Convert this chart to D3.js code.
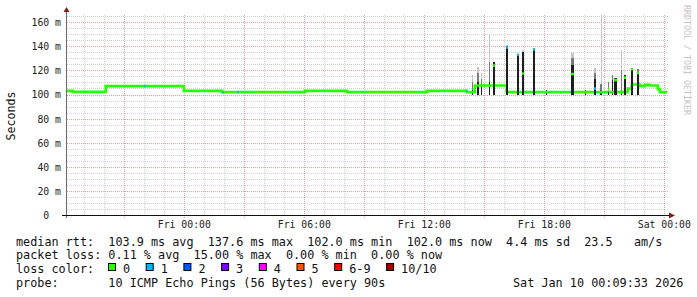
<!DOCTYPE html>
<html>
<head>
<meta charset="utf-8">
<script src="https://cdn.jsdelivr.net/npm/d3@7"></script>
<style>
  body { margin: 0; background: #fff; }
  svg text { font-family: "DejaVu Sans Mono", monospace; white-space: pre; }
</style>
</head>
<body>
<div id="chart"></div>
<script>
"use strict";

// ---- data ----
var START = "2026-01-08 18:09:33";
var END = "2026-01-10 00:09:33";

// median rtt (ms), step changes
var medianTimes = ["2026-01-08 18:09:33", "2026-01-08 18:27:00", "2026-01-08 20:06:00", "2026-01-09 00:00:00",
  "2026-01-09 01:54:00", "2026-01-09 06:03:00", "2026-01-09 08:09:00", "2026-01-09 12:09:00",
  "2026-01-09 14:09:00", "2026-01-09 14:33:00", "2026-01-09 16:09:00", "2026-01-09 22:12:00",
  "2026-01-09 22:24:00", "2026-01-09 22:48:00", "2026-01-09 23:03:00", "2026-01-09 23:18:00",
  "2026-01-09 23:42:00", "2026-01-09 23:48:00"];
var medianValues = [103, 102.2, 107, 103, 102, 103, 102, 103, 102, 107.5, 102, 105, 108.3, 107, 108, 107.5, 104.5, 102];

// single samples where one ping was lost
var lossTimes = ["2026-01-08 22:00:00", "2026-01-09 01:56:00", "2026-01-09 02:41:00", "2026-01-09 14:06:00"];
var lossCounts = [1, 1, 1, 1];

// smoke spikes: time, duration (min), median (null = baseline), lost pings, dark / mid / light tops (ms)
var spikeTimes = ["14:26", "14:39", "14:53", "15:16", "15:27", "16:06", "16:39", "16:54", "17:28", "18:06",
  "19:21", "20:05", "20:30", "20:50", "20:53", "21:12", "21:24", "21:30", "21:51", "22:00", "22:21", "22:39"];
var spikeMinutes = [3, 6, 3, 3, 6, 6, 6, 6, 6, 3, 9, 3, 6, 3, 3, 3, 3, 9, 3, 6, 6, 6];
var spikeMedian = [null, 107.5, null, null, 124, 139, 133, 117.5, 137.5, null, 117, null, 105, null, null, 104.5, null, 112, null, 114, 121, 118];
var spikeLoss = [0, 0, 0, 0, 0, 1, 1, 0, 1, 0, 0, 0, 1, 0, 0, 0, 0, 0, 0, 0, 0, 0];
var spikeDark = [104, 110.5, 108, 110, 127, 140, 134, 135.5, 138.5, 104, 124.4, 104, 113, 104, 102, 102, 112, 113.6, 102, 116, 122, 119];
var spikeMid = [110, 118, 113, 127, 127, 140, 134, 135.5, 138.5, 104, 130, 104, 118, 109, 109, 110.5, 116, 113.6, 120, 116, 122, 121];
var spikeLight = [116, 123, 118, 149, 127, 141, 134, 137, 138.5, 104, 134.5, 104, 122, 109, 175, 110.5, 116, 113.6, 136.8, 116, 122, 121];

var yTicks = [0, 20, 40, 60, 80, 100, 120, 140, 160];
var lossLabels = ["0", "1", "2", "3", "4", "5", "6-9", "10/10"];
var lossColors = ["#26ff00", "#00b8ff", "#0059ff", "#7e00ff", "#ff00ff", "#ff5500", "#ff0000", "#a10000"];

var rttLine = "median rtt:  103.9 ms avg  137.6 ms max  102.0 ms min  102.0 ms now  4.4 ms sd  23.5   am/s";
var lossLine = "packet loss: 0.11 % avg  15.00 % max  0.00 % min  0.00 % now";
var probeLine = "probe:       10 ICMP Echo Pings (56 Bytes) every 90s";
var stampLine = "Sat Jan 10 00:09:33 2026";

// ---- layout ----
var WIDTH = 697, HEIGHT = 297;
var LEFT = 67, RIGHT = 667, TOP = 15, BOTTOM = 215;
var CHAR_W = 7.1;
var GRID_MINOR = "#d2d2d2";
var GRID_MAJOR = "#dea2a2";
var ARROW_COLOR = "#8b1a1a";

function main() {
  var parse = d3.timeParse("%Y-%m-%d %H:%M:%S");
  var start = parse(START), end = parse(END);

  var x = d3.scaleTime().domain([start, end]).range([LEFT, RIGHT]);
  var y = d3.scaleLinear().domain([0, 166]).range([BOTTOM, TOP]);

  var svg = d3.select("#chart").append("svg")
      .attr("width", WIDTH)
      .attr("height", HEIGHT);

  // grid
  var grid = svg.append("g").attr("shape-rendering", "crispEdges");
  var minorY = d3.range(5, 166, 5).filter(function(v) { return v % 20 !== 0; });
  grid.selectAll(".hminor").data(minorY).enter().append("line")
      .attr("x1", LEFT).attr("x2", RIGHT + 2)
      .attr("y1", function(v) { return Math.round(y(v)) + 0.5; })
      .attr("y2", function(v) { return Math.round(y(v)) + 0.5; })
      .attr("stroke", GRID_MINOR).attr("stroke-dasharray", "1,1");

  var hours = x.ticks(d3.timeHour.every(1)).filter(function(d) { return d.getHours() % 3 !== 0; });
  grid.selectAll(".vminor").data(hours).enter().append("line")
      .attr("x1", function(d) { return Math.round(x(d)) + 0.5; })
      .attr("x2", function(d) { return Math.round(x(d)) + 0.5; })
      .attr("y1", TOP).attr("y2", BOTTOM)
      .attr("stroke", GRID_MINOR).attr("stroke-dasharray", "1,1");

  grid.selectAll(".hmajor").data(yTicks.slice(1)).enter().append("line")
      .attr("x1", LEFT).attr("x2", RIGHT + 2)
      .attr("y1", function(v) { return Math.round(y(v)) + 0.5; })
      .attr("y2", function(v) { return Math.round(y(v)) + 0.5; })
      .attr("stroke", GRID_MAJOR).attr("stroke-dasharray", "1,1");

  grid.selectAll(".vmajor").data(x.ticks(d3.timeHour.every(3))).enter().append("line")
      .attr("x1", function(d) { return Math.round(x(d)) + 0.5; })
      .attr("x2", function(d) { return Math.round(x(d)) + 0.5; })
      .attr("y1", TOP).attr("y2", BOTTOM + 3)
      .attr("stroke", GRID_MAJOR).attr("stroke-dasharray", "1,1");

  // spikes (smoke)
  var spikes = spikeTimes.map(function(t, i) {
    var t0 = parse("2026-01-09 " + t + ":00");
    return {
      t0: t0,
      t1: new Date(t0.getTime() + spikeMinutes[i] * 60000),
      median: spikeMedian[i],
      loss: spikeLoss[i],
      dark: spikeDark[i],
      mid: spikeMid[i],
      light: Math.min(spikeLight[i], 166)
    };
  });

  var smoke = svg.append("g").attr("shape-rendering", "crispEdges");
  function bars(g, key, color, data) {
    g.selectAll(null).data(data).enter().append("rect")
        .attr("x", function(d) { return Math.round(x(d.t0)); })
        .attr("width", function(d) { return Math.max(1, Math.round(x(d.t1)) - Math.round(x(d.t0))); })
        .attr("y", function(d) { return y(d[key]); })
        .attr("height", function(d) { return Math.max(0, y(100) - y(d[key])); })
        .attr("fill", color);
  }
  bars(smoke, "light", "#c4c4c4", spikes);
  bars(smoke, "mid", "#7a7a7a", spikes);
  bars(smoke, "dark", "#1e1e1e", spikes);

  // median line
  var medianData = medianTimes.map(function(t, i) { return [parse(t), medianValues[i]]; });
  medianData.push([end, medianValues[medianValues.length - 1]]);
  var line = d3.line()
      .x(function(d) { return x(d[0]); })
      .y(function(d) { return y(d[1]); })
      .curve(d3.curveStepAfter);
  svg.append("path")
      .datum(medianData)
      .attr("d", line)
      .attr("fill", "none")
      .attr("stroke", lossColors[0])
      .attr("stroke-width", 2.6);

  function medianAt(t) {
    var i = d3.bisectRight(medianData.map(function(d) { return d[0]; }), t) - 1;
    return medianData[Math.max(0, i)][1];
  }

  // loss marks on the median line
  svg.selectAll(".lossmark").data(lossTimes).enter().append("line")
      .attr("x1", function(t) { return x(parse(t)); })
      .attr("x2", function(t) { return x(parse(t)) + 1.5; })
      .attr("y1", function(t) { return y(medianAt(parse(t))); })
      .attr("y2", function(t) { return y(medianAt(parse(t))); })
      .attr("stroke", function(t, i) { return lossColors[lossCounts[i]]; })
      .attr("stroke-width", 2.6);

  // spikes with a raised median cover the base line
  var raised = spikes.filter(function(d) { return d.median !== null; });
  bars(svg.append("g").attr("shape-rendering", "crispEdges"), "dark", "#1e1e1e", raised);
  svg.selectAll(".spikemed").data(raised).enter().append("line")
      .attr("x1", function(d) { return Math.round(x(d.t0)); })
      .attr("x2", function(d) { return Math.round(x(d.t0)) + Math.max(1, Math.round(x(d.t1)) - Math.round(x(d.t0))); })
      .attr("y1", function(d) { return y(d.median); })
      .attr("y2", function(d) { return y(d.median); })
      .attr("stroke", function(d) { return lossColors[d.loss]; })
      .attr("stroke-width", 2.6);

  // axes
  var yAxis = d3.axisLeft(y)
      .tickValues(yTicks)
      .tickSize(0)
      .tickPadding(6)
      .tickFormat(function(v) { return v === 0 ? "0  " : v + " m"; });
  var gy = svg.append("g").attr("transform", "translate(" + LEFT + ",0)").call(yAxis);
  gy.select(".domain").remove();
  gy.attr("font-family", null).attr("font-size", null);
  gy.selectAll("text")
      .attr("xml:space", "preserve")
      .attr("dy", null)
      .attr("y", 3.4)
      .attr("font-size", 9.8)
      .attr("fill", "#222");

  var xAxis = d3.axisBottom(x)
      .ticks(d3.timeHour.every(6))
      .tickSize(0)
      .tickFormat(d3.timeFormat("%a %H:%M"));
  var gx = svg.append("g").attr("transform", "translate(0," + BOTTOM + ")").call(xAxis);
  gx.select(".domain").remove();
  gx.attr("font-family", null).attr("font-size", null);
  gx.selectAll("text")
      .attr("dy", null)
      .attr("y", 12.7)
      .attr("font-size", 9.8)
      .attr("fill", "#222");

  svg.append("line")
      .attr("x1", LEFT - 0.5).attr("x2", LEFT - 0.5)
      .attr("y1", TOP - 3).attr("y2", BOTTOM + 3)
      .attr("stroke", "#6a6a6a");
  svg.append("line")
      .attr("x1", LEFT - 5).attr("x2", RIGHT + 3)
      .attr("y1", BOTTOM + 0.5).attr("y2", BOTTOM + 0.5)
      .attr("stroke", "#111");

  // arrow heads
  svg.append("path")
      .attr("d", "M" + (LEFT - 3.5) + "," + (TOP - 3) + " L" + (LEFT + 2.5) + "," + (TOP - 3) + " L" + (LEFT - 0.5) + "," + (TOP - 8) + " Z")
      .attr("fill", ARROW_COLOR);
  svg.append("path")
      .attr("d", "M" + (RIGHT + 2) + "," + (BOTTOM - 2.5) + " L" + (RIGHT + 2) + "," + (BOTTOM + 3.5) + " L" + (RIGHT + 8) + "," + (BOTTOM + 0.5) + " Z")
      .attr("fill", ARROW_COLOR);

  // y title
  svg.append("text")
      .attr("transform", "translate(15," + ((TOP + BOTTOM) / 2 + 1) + ") rotate(-90)")
      .attr("text-anchor", "middle")
      .attr("font-size", 11.6)
      .attr("fill", "#111")
      .text("Seconds");

  // watermark
  svg.append("text")
      .attr("transform", "translate(684,5) rotate(90)")
      .attr("font-size", 8.3)
      .attr("fill", "#c4c4c4")
      .text("RRDTOOL / TOBI OETIKER");

  // legend
  var legend = svg.append("g").attr("font-size", 11.8).attr("fill", "#111");
  var rows = [[rttLine, 245.7], [lossLine, 259.4], [probeLine, 286.7]];
  legend.selectAll(".row").data(rows).enter().append("text")
      .attr("xml:space", "preserve")
      .attr("x", 16)
      .attr("y", function(r) { return r[1]; })
      .text(function(r) { return r[0]; });
  legend.append("text")
      .attr("x", 16 + 70 * CHAR_W)
      .attr("y", 286.7)
      .text(stampLine);
  legend.append("text")
      .attr("x", 16)
      .attr("y", 273)
      .text("loss color:");

  var sx = 108;
  lossLabels.forEach(function(lbl, i) {
    legend.append("rect")
        .attr("x", sx + 0.5).attr("y", 263.5)
        .attr("width", 7).attr("height", 7)
        .attr("fill", lossColors[i])
        .attr("stroke", "#000")
        .attr("stroke-width", 1);
    legend.append("text")
        .attr("x", sx + 15)
        .attr("y", 273)
        .text(lbl);
    sx = sx + 15 + lbl.length * CHAR_W + 15.6;
  });
}

main();
</script>
</body>
</html>
